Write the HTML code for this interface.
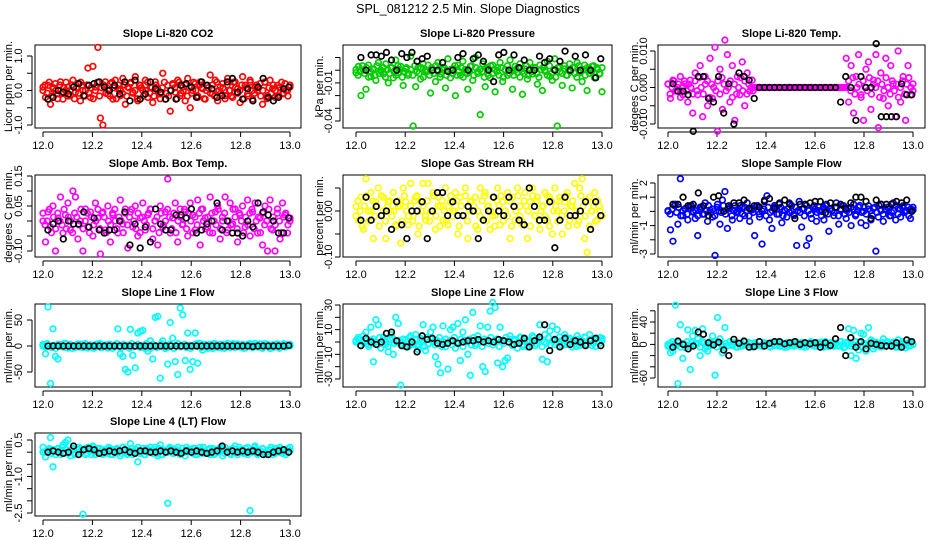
<!DOCTYPE html>
<html><head><meta charset="utf-8"><style>
html,body{margin:0;padding:0;background:#fff;}
svg{display:block;font-family:"Liberation Sans",sans-serif;}
</style></head><body>
<svg id="chart" width="936" height="540" viewBox="0 0 936 540">
<text x="468" y="13" text-anchor="middle" font-size="12.5">SPL_081212  2.5 Min. Slope Diagnostics</text>
</svg>
<script>
// ---- data arrays ----
const xTickLabels = ["12.0","12.2","12.4","12.6","12.8","13.0"];
const xTickValues = [12.0,12.2,12.4,12.6,12.8,13.0];

const co2Values = [0.1,-0.2,0.15,-0.4,0.05,0.2,-0.1,0.25,-0.25,0.0,0.1,-0.15,0.3,-0.05,0.2,-0.3,0.15,0.0,0.65,-0.2,0.7,0.1,1.25,-0.8,-1.0,0.25,-0.1,0.2,-0.25,0.3,0.05,-0.15,0.35,-0.4,0.1,0.2,-0.05,0.4,-0.3,0.15,0.0,0.3,-0.2,0.1,-0.35,0.25,0.05,-0.1,0.5,-0.25,0.15,-0.6,0.2,-0.05,0.3,-0.15,0.1,-0.3,0.35,-0.5,0.0,0.2,-0.2,0.25,0.05,-0.25,0.15,0.45,-0.1,0.3,-0.3,0.1,0.2,-0.15,0.35,0.0,-0.2,0.25,0.05,-0.35,0.4,0.15,-0.1,0.3,-0.25,0.1,0.0,0.2,-0.4,0.25,-0.15,0.3,0.05,-0.2,0.15,0.1,-0.1,0.2,0.0,0.1];
const co2Band = [0,2,-1,3,-2,1,0,-3,2,-1,1,3,-2,0,2,-3,1,-1,3,0,-2,2,-1,1,-3,0,3,-2,1,2,-1,0,-2,3,1,-3,2,0,-1,2,-2,1,3,-1,0,-3,2,1,-2,0,3,-1,1,-2,2,0,-3,1,3,-1,-2,0,2,1,-3,3,-1,0,2,-2,1,-1,3,0,-2,2,1,-3,0,1,-1,2,-2,3,0,-1,1,-3,2,0,-2,3,1,-1,0,2,-3,1,-2,3,0,-1,2,1,-2,0,3,-3,1,-1,2,0,-2,1,3,-1,0,-2,2];
const co2Black = [-0.25,-0.2,0.0,-0.05,-0.1,0.1,0.2,-0.15,0.15,0.2,0.25,0.1,0.0,0.15,-0.1,0.25,-0.3,0.3,-0.25,-0.1,0.25,0.05,-0.05,-0.25,0.0,-0.25,0.15,0.2,0.1,-0.2,0.25,0.15,0.05,-0.2,-0.15,0.25,0.35,-0.05,-0.25,0.05,-0.3,0.1,0.35,-0.2,-0.3,-0.2,0.05,0.1];

const pressValues = [-0.002,0.003,-0.02,0.0,-0.015,0.004,-0.005,0.001,-0.008,0.006,0.0,-0.003,0.005,-0.01,0.002,-0.006,0.008,-0.002,0.003,-0.012,0.001,-0.004,0.011,-0.044,-0.013,0.002,-0.007,0.005,-0.001,0.004,-0.018,0.0,-0.009,0.006,-0.003,0.002,-0.014,0.009,-0.006,0.001,-0.02,0.004,-0.004,0.007,-0.002,-0.015,0.003,-0.008,0.01,-0.001,-0.035,0.005,-0.013,0.001,-0.006,0.004,-0.017,0.002,0.006,-0.009,0.0,-0.004,0.008,-0.015,0.003,-0.002,0.005,-0.019,0.001,-0.007,0.006,-0.003,0.002,-0.011,0.004,-0.016,0.0,0.007,-0.005,-0.008,0.009,-0.044,0.003,-0.012,0.001,-0.004,0.005,-0.014,0.002,0.006,-0.002,-0.009,0.004,-0.016,0.001,0.003,-0.006,0.002,-0.003,-0.017];
const pressBand = [1,-2,0,3,-1,2,-3,0,1,-2,3,-1,0,2,-3,1,-1,2,0,-2,3,1,-3,0,2,-1,1,-2,3,0,-1,2,-3,1,0,-2,2,-1,3,0,-3,1,2,-2,0,1,-1,3,-2,0,2,-3,1,-1,0,3,-2,2,-1,1,0,-3,2,-2,3,-1,1,0,-2,2,-3,1,3,-1,0,-2,1,2,-3,0,-1,3,-2,1,0,2,-1,-3,1,2,0,-2,3,-1,1,-3,2,0,-1,3,-2,1,0,2,-1,-3,3,0,1,-2,2,-1,0,3,-3,1,-1,2];
const pressBlack = [0.01,0.0,0.012,0.012,0.011,0.014,0.008,0.0,0.013,0.01,0.014,0.007,0.009,0.011,0.0,0.0,0.006,-0.001,0.0,0.01,0.013,0.0,0.009,0.012,0.007,0.0,-0.009,0.012,0.014,0.0,0.012,0.002,0.008,0.0,0.0,0.011,0.006,0.009,0.0,0.007,0.015,0.0,0.011,0.0,0.012,0.0,-0.006,0.009];

const tempValues = [0.001,-0.003,0.002,-0.001,0.0,0.003,-0.002,0.001,-0.004,0.002,-0.007,0.004,-0.002,0.006,-0.008,0.003,-0.005,0.008,-0.003,0.011,-0.012,0.005,-0.006,0.013,0.009,-0.004,0.006,-0.009,0.003,-0.002,0.007,-0.005,0.004,-0.001,0.002,0,0,0,0,0,0,0,0,0,0,0,0,0,0,0,0,0,0,0,0,0,0,0,0,0,0,0,0,0,0,0,0,0,0,0,0,0,0.008,-0.004,0.006,-0.007,0.003,0.009,-0.002,-0.009,0.005,0.007,-0.006,0.002,0.009,-0.011,0.004,-0.003,0.008,-0.005,0.006,0.001,-0.008,0.010,-0.004,0.003,-0.009,0.006,-0.002,0.001];
const tempBand = [1,-2,0,2,-1,1,-3,0,2,-1,1,0,-2,2,-1,3,0,-2,1,2,-3,1,0,-1,2,-2,3,1,-1,0,2,-3,1,-2,0,3,-1,2,-2,1,0,-1,0,0,0,0,0,0,0,0,0,0,0,0,0,0,0,0,0,0,0,0,0,0,0,0,0,0,0,0,0,0,0,0,0,0,0,0,0,0,0,0,0,0,0,0,0,2,-1,3,-2,0,1,-3,2,0,-1,3,-2,1,0,2,-3,1,-1,3,0,-2,2,-1,1,-3,0,2,-2,1,3,0,-1];
const tempBlack = [0.001,-0.001,-0.001,-0.002,-0.012,0.003,0.003,-0.003,-0.004,0.003,-0.007,0.001,-0.010,0.004,0.003,0.002,-0.003,0,0,0,0,0,0,0,0,0,0,0,0,0,0,0,0,-0.004,0.003,0.0,-0.009,0.003,0.0,0.0,0.012,-0.008,-0.008,-0.008,-0.008,0.001,-0.002,-0.002];

const ambValues = [0.0,-0.07,0.03,-0.02,0.05,-0.1,0.01,0.08,-0.04,0.02,0.06,-0.03,0.1,0.08,-0.06,0.0,-0.1,0.04,-0.02,0.03,-0.05,0.06,0.01,-0.11,0.03,-0.03,0.05,-0.07,0.02,0.0,-0.04,0.07,-0.01,0.04,-0.09,0.03,-0.02,0.05,-0.05,0.01,0.06,-0.03,0.02,0.04,-0.06,0.0,-0.08,0.05,-0.02,0.03,0.14,-0.04,0.01,0.06,-0.07,0.04,-0.01,0.03,-0.05,0.06,0.02,-0.03,0.07,-0.08,0.04,0.01,-0.02,0.08,-0.04,0.03,0.05,-0.06,0.0,0.08,-0.03,0.06,-0.01,0.04,-0.07,0.02,0.05,-0.02,0.07,-0.05,0.03,0.06,-0.04,0.01,-0.08,0.05,-0.1,0.07,-0.03,-0.1,0.04,-0.06,0.06,0.02,-0.04,0.01];
const ambBand = [2,-1,0,3,-3,1,-2,2,0,-1,3,-2,1,0,-3,2,1,-1,3,-2,0,2,-3,1,-1,0,3,-2,2,1,-3,0,-1,2,3,-2,1,0,-3,2,-1,1,3,0,-2,2,-3,1,0,-1,2,3,-2,0,1,-3,2,-1,0,3,1,-2,2,-3,0,1,-1,3,-2,2,0,-3,1,-1,2,3,0,-2,1,-3,2,0,-1,3,-2,1,2,-3,0,-1,3,1,-2,2,0,-3,1,-1,2,3,-2,0,1,-3,2,-1,0,3,-2,1,-1,2,0,-3,1,2,-1,0];
const ambBlack = [-0.03,-0.01,0.0,-0.06,0.0,-0.01,-0.01,0.03,-0.02,0.01,-0.03,-0.04,-0.03,-0.03,0.0,0.03,-0.08,-0.01,-0.09,-0.02,-0.07,0.04,-0.01,-0.03,-0.03,0.02,0.02,0.01,0.04,-0.04,-0.03,-0.01,0.0,0.06,-0.03,0.0,-0.04,-0.04,-0.05,0.0,-0.02,0.06,0.03,0.02,0.0,-0.04,-0.04,0.01];

const rhValues = [0.01,-0.02,0.03,-0.04,0.07,0.0,0.04,-0.06,0.02,0.05,-0.01,0.03,-0.06,0.02,0.0,0.04,-0.03,0.01,-0.07,0.05,0.02,-0.03,0.06,-0.01,0.03,-0.05,0.02,0.06,-0.02,0.06,0.0,0.04,-0.04,0.03,0.01,-0.02,0.05,-0.03,0.02,0.0,0.04,-0.05,0.03,-0.01,0.05,-0.06,0.02,0.0,0.03,-0.04,0.05,-0.02,0.04,0.01,-0.04,0.03,-0.01,0.05,-0.03,0.02,0.0,0.04,-0.06,0.03,-0.02,0.05,0.01,-0.03,0.04,-0.06,0.02,0.05,-0.01,0.03,-0.04,0.01,0.04,-0.02,0.03,-0.05,0.05,0.0,0.03,-0.05,0.02,0.04,-0.02,0.01,0.06,-0.03,0.05,0.07,-0.06,-0.09,0.03,0.0,0.04,-0.02,0.01,-0.01];
const rhBand = [-1,2,0,-3,1,3,-2,0,2,-1,1,-3,3,0,-2,1,2,-1,0,-3,2,1,-2,3,0,-1,1,-2,2,3,-3,0,1,-1,2,-2,0,3,-1,1,-3,2,0,-2,1,3,-1,0,2,-3,1,-1,3,-2,0,2,1,-3,0,-1,2,3,-2,1,0,-1,-3,2,1,3,-2,0,-1,2,-3,1,0,3,-1,-2,2,1,0,-3,3,-1,2,-2,0,1,-1,3,-3,2,0,1,-2,2,-1,0,3,-3,1,2,-1,0,-2,3,1,-1,2,-3,0,1,-2,2,0,-1];
const rhBlack = [-0.02,0.03,-0.02,0.01,-0.01,0.0,-0.04,0.02,-0.03,-0.06,0.0,0.0,0.02,-0.06,0.0,0.04,0.04,-0.01,0.02,-0.01,-0.01,0.01,0.0,-0.06,-0.02,0.0,0.03,0.0,-0.01,0.03,0.01,-0.02,-0.03,0.05,0.01,-0.02,-0.02,0.02,-0.08,-0.02,0.03,-0.01,-0.01,0.0,0.02,-0.04,0.02,-0.01];

const flowValues = [0.0,-1.3,-2.1,0.5,-0.9,2.3,-0.3,0.2,-0.6,0.4,0.0,-0.5,-1.7,0.3,-0.2,0.6,-0.7,0.1,-0.4,-3.1,0.5,-0.9,0.8,1.4,-1.2,0.2,-0.6,0.4,0.0,-0.5,0.3,-0.3,0.6,-0.7,0.1,-1.7,0.4,-0.4,-2.3,0.8,1.1,-0.6,-1.2,0.3,-0.2,0.5,-0.8,0.1,-0.4,0.6,0.0,-0.3,-2.4,0.7,-1.1,0.2,-2.4,-1.9,-0.5,0.4,-0.7,0.3,0.0,-0.6,0.5,-1.4,0.2,-0.3,0.6,-0.9,0.1,0.4,-0.5,0.2,-1.0,0.5,-0.2,0.3,-0.8,0.0,-1.0,0.4,-0.6,0.2,-2.8,-0.4,0.5,-0.7,0.1,0.3,-0.3,0.6,-0.6,0.2,-0.4,0.4,0.0,0.3,-0.5,0.1];
const flowBand = [0,-2,1,3,-1,2,-3,0,1,-2,2,3,-1,0,-3,1,2,-2,0,3,-1,1,-3,2,0,-1,3,-2,1,2,-3,0,-1,1,3,-2,2,0,-3,1,-1,2,3,-2,0,1,-3,2,-1,0,3,1,-2,2,-3,0,1,-1,3,-2,2,0,-1,1,-3,3,0,-2,2,1,-1,0,-3,2,3,-2,1,0,-1,2,-3,1,3,-2,0,-1,2,1,-3,0,3,-1,2,-2,1,0,-3,2,-1,3,0,-2,1,2,-3,-1,0,3,-2,1,2,-1,0,-3,1,2];
const flowBlack = [0.5,0.5,1.0,0.4,0.5,1.3,0.4,-0.3,1.0,1.1,0.0,0.4,0.6,0.6,0.8,0.2,0.4,0.3,0.7,0.9,0.2,0.6,0.8,0.5,-0.5,0.5,0.5,0.6,0.7,0.7,-0.1,0.6,0.3,0.5,0.2,0.6,1.0,1.0,0.7,-0.5,0.8,0.5,0.5,0.5,0.7,0.6,0.8,0.0];

const line1Values = [0,-15,75,-72,33,-20,-25,3,-2,5,-4,2,0,-3,4,-2,1,3,-4,2,0,-2,4,-3,1,2,-4,3,-1,0,33,-15,-20,-45,-50,32,-18,-42,25,28,30,-5,-10,10,-25,55,57,-62,10,-5,-35,45,15,-30,-55,73,60,-28,25,-45,-30,25,-33,5,-8,3,-3,2,-5,4,-2,3,-4,1,5,-3,2,-1,4,-2,3,-4,0,2,-3,5,-2,4,-4,1,3,-5,2,-1,4,-3,1,-2,3,0];
const line1Band = [2,-1,3,0,-2,1,-3,2,0,-1,3,-2,1,2,-3,0,1,-1,2,-2,3,0,-1,1,-3,2,0,3,-2,1,-1,2,0,-3,1,3,-1,-2,2,0,1,-3,3,-1,0,2,-2,1,-1,3,0,-3,2,1,-2,0,3,-1,1,-2,2,0,-3,1,3,-1,0,2,-2,1,-3,0,2,3,-1,-2,1,0,-3,2,-1,3,1,-2,0,2,-3,1,-1,0,3,-2,2,1,-1,-3,0,2,3,-2,1,0,-1,2,-3,3,0,-1,1,-2,2,0,-3,1,3,-1,0,2];
const line1Black = [0,0,0,0,0,0,0,0,0,0,0,0,0,0,0,0,0,0,0,0,0,0,0,0,0,0,0,0,0,0,0,0,0,0,0,0,0,0,0,0,-1,0,0,0,0,0,0,1];

const line2Values = [0,2,-3,5,8,-2,12,-16,18,14,-5,4,-2,-8,6,-10,20,15,-35,-3,2,-4,5,-2,6,-6,3,14,-7,-2,8,12,-12,-18,-25,13,-4,-22,10,12,-5,15,-15,8,18,-10,-27,24,-3,5,13,-20,-24,12,25,32,28,-17,12,-20,-15,-13,5,-3,2,-5,4,-2,3,-4,1,5,-3,2,14,-14,6,-16,9,13,-2,10,4,-3,6,-2,3,-4,2,5,-3,1,4,-2,6,-3,2,0,-1,3];
const line2Band = [1,3,-2,0,2,-1,-3,1,2,0,-2,3,-1,1,0,-3,2,3,-1,0,1,-2,2,-3,0,3,1,-1,2,-2,0,1,-3,3,-1,2,0,-2,1,3,-3,0,2,-1,1,-2,3,0,-1,2,-3,1,0,2,-2,3,-1,1,0,-3,2,1,-1,3,-2,0,2,-3,1,-1,3,0,2,-2,1,-1,0,3,-3,2,1,0,-2,3,-1,1,2,-3,0,-1,3,-2,1,2,0,-3,1,-1,3,2,-2,0,1,-3,2,-1,0,3,-2,1,2,-1,-3,0,3,1];
const line2Black = [-3,3,0,-2,0,7,8,1,-3,-4,0,-8,5,2,3,-1,-2,-1,1,-1,0,1,1,2,0,1,0,2,1,0,-2,-1,3,-4,1,4,14,-7,2,-4,3,-2,1,0,-3,1,3,-3];

const line3Values = [0,-15,-12,70,-70,35,-25,-6,26,-45,15,25,10,-20,28,-8,-12,5,15,-55,48,10,-15,30,-3,4,-2,3,-5,2,-3,4,-1,2,-4,3,-2,5,-3,1,2,-4,3,-2,4,-3,1,-5,3,-1,2,-3,4,-2,1,3,-4,2,-1,3,-3,2,4,-2,1,-4,3,-1,2,-3,5,-6,3,28,-20,25,-25,-10,20,18,-12,30,8,-8,4,-3,2,10,-4,3,-2,4,-5,8,-3,2,-6,3,-2,0];
const line3Band = [-2,1,3,0,-1,2,-3,1,0,3,-2,2,-1,0,1,-3,3,2,-2,0,-1,1,3,-3,2,0,-2,1,-1,3,0,2,-3,1,-2,0,3,-1,2,1,-3,0,-1,3,-2,2,1,0,-3,1,2,-1,3,-2,0,1,-3,2,-1,0,3,1,-2,2,-3,0,1,3,-1,-2,2,0,1,-3,3,-1,0,2,-2,1,-1,3,0,-3,2,1,-2,0,3,-1,2,-3,1,0,-1,2,3,-2,1,0,-3,2,-1,3,0,-2,1,2,-3,0,3,-1,1,-2,2,0];
const line3Black = [-5,6,0,-8,-3,22,18,3,-1,4,-10,-20,9,2,6,-5,-4,5,-3,2,5,5,1,3,5,0,3,1,3,-5,3,-2,10,30,-20,12,-5,5,-8,2,0,-2,-3,-3,3,-5,8,5];

const line4Values = [0.0,-0.2,0.1,0.6,-0.6,0.05,0.15,-0.1,0.3,0.4,0.5,-0.15,0.1,-0.05,0.15,0.0,-2.55,-0.1,0.2,0.05,0.25,-0.1,0.15,0.0,-0.1,0.1,-0.05,0.15,-0.1,0.05,0.1,-0.15,0.2,0.0,-0.05,0.35,-0.1,0.1,-0.4,0.05,0.15,-0.1,0.0,0.2,-0.05,0.1,-0.15,0.3,-0.1,0.05,-2.1,0.15,-0.05,0.1,0.2,-0.1,0.0,-0.15,0.1,0.05,0.15,-0.1,0.05,0.2,-0.05,0.0,0.1,-0.1,0.15,-0.05,0.05,0.1,-0.15,0.2,0.0,-0.05,0.15,0.25,-0.1,0.05,0.1,-0.05,0.2,-2.4,0.1,0.25,-0.1,0.05,0.15,-0.05,0.0,0.1,-0.1,0.15,0.05,0.2,-0.05,0.1,0.0,0.05];
const line4Band = [3,-1,0,2,-2,1,-3,2,0,3,-1,1,-2,0,2,-3,1,3,-1,0,2,-2,1,-3,3,0,-1,2,1,-2,0,3,-3,1,-1,2,0,-2,3,1,-3,0,2,-1,1,3,-2,0,-3,2,1,-1,0,3,-2,2,-3,1,0,-1,3,2,-2,1,0,-3,2,-1,3,0,1,-2,2,-3,0,1,3,-1,-2,2,0,-3,1,-1,3,2,-2,0,1,-3,2,-1,0,3,1,-2,2,-3,0,-1,3,1,-2,0,2,-1,-3,1,3,0,-2,2,-1,1,0,-3,2,3];
const line4Black = [0.0,0.05,0.0,-0.05,0.0,0.25,-0.1,0.1,0.15,0.1,-0.05,0.0,0.05,0.0,0.05,0.1,0.0,-0.05,0.05,0.05,0.0,0.0,0.05,0.0,0.05,0.0,-0.05,0.05,0.0,0.05,0.0,-0.05,0.0,0.05,0.25,0.0,0.05,0.0,0.05,0.0,0.05,0.0,-0.1,-0.1,0.0,0.05,0.1,0.0];

// ---- layout ----
const cols = [{l:35,r:301,x0:43,x1:290,lab:18,tit:8},{l:343,r:612,x0:356,x1:602,lab:328,tit:319},{l:658,r:925,x0:668,x1:913,lab:643,tit:634}];
const rows = [{t:45,b:128},{t:175,b:257},{t:304,b:387},{t:433,b:516}];

const panels = [
 {name:"co2",title:"Slope Li-820 CO2",ylab:"Licor ppm per min.",c:0,r:0,col:"#ff0000",vals:co2Values,band:co2Band,bu:0.08,bc:0,blk:co2Black,v1:1,p1:56,v2:-1,p2:125,ticks:[-1,-0.5,0,0.5,1],labels:{"-1":"-1.0","0":"0.0","1":"1.0"}},
 {name:"pressure",title:"Slope Li-820 Pressure",ylab:"kPa per min.",c:1,r:0,col:"#00cc00",vals:pressValues,band:pressBand,bu:0.0015,bc:-0.001,blk:pressBlack,v1:0.01,p1:57.5,v2:-0.04,p2:121,ticks:[-0.04,-0.03,-0.02,-0.01,0,0.01],labels:{"-0.04":"-0.04","-0.01":"-0.01"}},
 {name:"temp",title:"Slope Li-820 Temp.",ylab:"degees C per min.",c:2,r:0,col:"#ff00ff",vals:tempValues,band:tempBand,bu:0.0009,bc:0,blk:tempBlack,v1:0.01,p1:51,v2:-0.01,p2:124,ticks:[-0.01,-0.005,0,0.005,0.01],labels:{"-0.01":"-0.010","0":"0.000","0.01":"0.010"}},
 {name:"amb-temp",title:"Slope Amb. Box Temp.",ylab:"degrees C per min.",c:0,r:1,col:"#ff00ff",vals:ambValues,band:ambBand,bu:0.013,bc:0,blk:ambBlack,v1:0.15,p1:176,v2:-0.1,p2:251,ticks:[-0.1,-0.05,0,0.05,0.1,0.15],labels:{"-0.1":"-0.10","0.05":"0.05","0.15":"0.15"}},
 {name:"rh",title:"Slope Gas Stream RH",ylab:"percent per min.",c:1,r:1,col:"#ffff00",vals:rhValues,band:rhBand,bu:0.011,bc:0,blk:rhBlack,v1:0.05,p1:188,v2:-0.1,p2:257,ticks:[-0.1,-0.05,0,0.05],labels:{"-0.1":"-0.10","0":"0.00"}},
 {name:"sample-flow",title:"Slope Sample Flow",ylab:"ml/min per min.",c:2,r:1,col:"#0000ff",vals:flowValues,band:flowBand,bu:0.12,bc:0.05,blk:flowBlack,v1:2,p1:183,v2:-3,p2:254,ticks:[-3,-2,-1,0,1,2],labels:{"-3":"-3","-1":"-1","1":"1","2":"2"}},
 {name:"line1",title:"Slope Line 1 Flow",ylab:"ml/min per min.",c:0,r:2,col:"#00ffff",vals:line1Values,band:line1Band,bu:1.5,bc:0,blk:line1Black,v1:50,p1:320,v2:-50,p2:372,ticks:[-50,0,50],labels:{"-50":"-50","0":"0","50":"50"}},
 {name:"line2",title:"Slope Line 2 Flow",ylab:"ml/min per min.",c:1,r:2,col:"#00ffff",vals:line2Values,band:line2Band,bu:1.2,bc:0,blk:line2Black,v1:30,p1:305,v2:-30,p2:379,ticks:[-30,-20,-10,0,10,20,30],labels:{"-30":"-30","-10":"-10","10":"10","30":"30"}},
 {name:"line3",title:"Slope Line 3 Flow",ylab:"ml/min per min.",c:2,r:2,col:"#00ffff",vals:line3Values,band:line3Band,bu:1.6,bc:0,blk:line3Black,v1:40,p1:322,v2:-60,p2:378,ticks:[-60,-40,-20,0,20,40,60],labels:{"-60":"-60","0":"0","40":"40"}},
 {name:"line4",title:"Slope Line 4 (LT) Flow",ylab:"ml/min per min.",c:0,r:3,col:"#00ffff",vals:line4Values,band:line4Band,bu:0.05,bc:0.05,blk:line4Black,v1:0.5,p1:440,v2:-2.5,p2:513,ticks:[-2.5,-2,-1.5,-1,-0.5,0,0.5],labels:{"-2.5":"-2.5","-1":"-1.0","0.5":"0.5"}}
];

const NS = "http://www.w3.org/2000/svg";
const svg = document.getElementById("chart");
function mk(tag, attrs, parent){ const e=document.createElementNS(NS,tag); for(const k in attrs) e.setAttribute(k,attrs[k]); (parent||svg).appendChild(e); return e; }

panels.forEach(p=>{
  const C=cols[p.c], R=rows[p.r];
  const g = mk("g",{});
  
  
  const xs = v => C.x0 + (v-12)*(C.x1-C.x0);
  const ys = v => p.p1 + (v-p.v1)*(p.p2-p.p1)/(p.v2-p.v1);
  const t = mk("text",{x:(C.l+C.r)/2,y:R.t-8,"text-anchor":"middle","font-size":"11","font-weight":"bold"},g);
  t.textContent=p.title;
  
  
  const fr = mk("rect",{x:C.l,y:R.t,width:C.r-C.l,height:R.b-R.t,fill:"none",stroke:"#000","stroke-width":"1"},g);
  
  
  const xa = mk("g",{},g);
  
  
  mk("line",{x1:xs(12),x2:xs(13),y1:R.b+4,y2:R.b+4,stroke:"#000"},xa);
  xTickValues.forEach((v,i)=>{
    mk("line",{x1:xs(v),x2:xs(v),y1:R.b+4,y2:R.b+9,stroke:"#000"},xa);
    const tl = mk("text",{x:xs(v),y:R.b+21,"text-anchor":"middle","font-size":"11"},xa);
    tl.textContent = xTickLabels[i];
    
    
  });
  const ya = mk("g",{},g);
  
  
  const tmin=Math.min(...p.ticks), tmax=Math.max(...p.ticks);
  mk("line",{x1:C.l-3,x2:C.l-3,y1:ys(tmin),y2:ys(tmax),stroke:"#000"},ya);
  p.ticks.forEach(v=>{
    mk("line",{x1:C.l-8,x2:C.l-3,y1:ys(v),y2:ys(v),stroke:"#000"},ya);
    const key=String(v);
    if(p.labels[key]!==undefined){
      const yl = mk("text",{x:0,y:0,"text-anchor":"middle","font-size":"11",transform:`translate(${C.lab+4},${ys(v)}) rotate(-90)`},ya);
      yl.textContent=p.labels[key];
      
      
    }
  });
  const yt = mk("text",{x:0,y:0,"text-anchor":"middle","font-size":"11",transform:`translate(${C.tit+4},${(R.t+R.b)/2}) rotate(-90)`},g);
  yt.textContent=p.ylab;
  
  
  // dense band series
  const bd = mk("g",{fill:"none",stroke:p.col,"stroke-width":"1.7"},g);
  
  
  const nb=p.band.length;
  p.band.forEach((v,i)=>{
    const c = mk("circle",{cx:xs(12+i/(nb-1)),cy:ys(p.bc+v*p.bu),r:2.8},bd);
    
    
  });
  const sg = mk("g",{fill:"none",stroke:p.col,"stroke-width":"1.7"},g);
  
  
  const n=p.vals.length;
  p.vals.forEach((v,i)=>{
    const c = mk("circle",{cx:xs(12+i/(n-1)),cy:ys(v),r:2.8},sg);
    
    
  });
  const bg = mk("g",{fill:"none",stroke:"#000","stroke-width":"1.7"},g);
  
  
  const m=p.blk.length;
  p.blk.forEach((v,i)=>{
    const c = mk("circle",{cx:xs(12.02+0.975*i/(m-1)),cy:ys(v),r:2.8},bg);
    
    
  });
});
</script>
</body></html>
